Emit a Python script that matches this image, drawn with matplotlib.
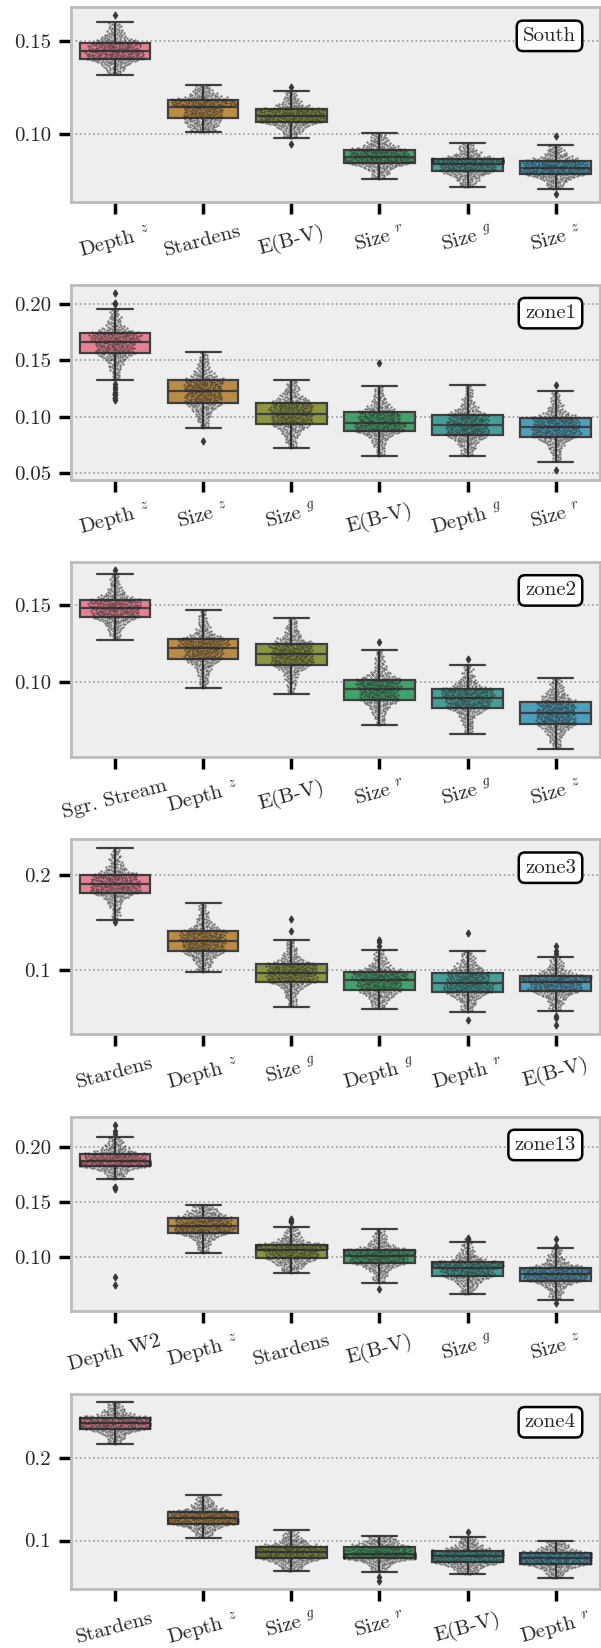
import numpy as np
import pandas as pd
import matplotlib
matplotlib.use("Agg")
import matplotlib.pyplot as plt
import seaborn as sns
import warnings

warnings.filterwarnings("ignore")

# panel names
zones = ["South", "zone1", "zone2", "zone3", "zone13", "zone4"]

# features per panel (sorted by median)
labels_south = [r"Depth $^z$", "Stardens", "E(B-V)", r"Size $^r$", r"Size $^g$", r"Size $^z$"]
labels_zone1 = [r"Depth $^z$", r"Size $^z$", r"Size $^g$", "E(B-V)", r"Depth $^g$", r"Size $^r$"]
labels_zone2 = ["Sgr. Stream", r"Depth $^z$", "E(B-V)", r"Size $^r$", r"Size $^g$", r"Size $^z$"]
labels_zone3 = ["Stardens", r"Depth $^z$", r"Size $^g$", r"Depth $^g$", r"Depth $^r$", "E(B-V)"]
labels_zone13 = ["Depth W2", r"Depth $^z$", "Stardens", "E(B-V)", r"Size $^g$", r"Size $^z$"]
labels_zone4 = ["Stardens", r"Depth $^z$", r"Size $^g$", r"Size $^r$", "E(B-V)", r"Depth $^r$"]

# box statistics: whisker low, q1, median, q3, whisker high
lo_south = [0.1320, 0.1010, 0.0980, 0.0760, 0.0715, 0.0705]
q1_south = [0.1405, 0.1085, 0.1064, 0.0844, 0.0801, 0.0785]
med_south = [0.1445, 0.1147, 0.1099, 0.0878, 0.0842, 0.0819]
q3_south = [0.1491, 0.1183, 0.1133, 0.0917, 0.0867, 0.0855]
hi_south = [0.1600, 0.1264, 0.1232, 0.1007, 0.0954, 0.0943]
out_south = [[0.1637], [], [0.1255, 0.0950], [], [], [0.0989, 0.0679]]

lo_zone1 = [0.1326, 0.0900, 0.0724, 0.0651, 0.0651, 0.0601]
q1_zone1 = [0.1563, 0.1120, 0.0935, 0.0871, 0.0836, 0.0824]
med_zone1 = [0.1663, 0.1226, 0.1029, 0.0947, 0.0924, 0.0906]
q3_zone1 = [0.1739, 0.1324, 0.1123, 0.1041, 0.1018, 0.0991]
hi_zone1 = [0.1959, 0.1576, 0.1323, 0.1270, 0.1282, 0.1232]
out_zone1 = [[0.2094, 0.2009, 0.1995, 0.1290, 0.1265, 0.1247, 0.1220, 0.1205, 0.1190, 0.1165, 0.1150],
             [0.0789], [], [0.1475], [], [0.1282, 0.0531]]

lo_zone2 = [0.1278, 0.0963, 0.0927, 0.0722, 0.0668, 0.0571]
q1_zone2 = [0.1422, 0.1151, 0.1116, 0.0884, 0.0836, 0.0728]
med_zone2 = [0.1481, 0.1226, 0.1183, 0.0957, 0.0901, 0.0800]
q3_zone2 = [0.1537, 0.1282, 0.1252, 0.1019, 0.0955, 0.0875]
hi_zone2 = [0.1705, 0.1472, 0.1418, 0.1209, 0.1116, 0.1030]
out_zone2 = [[0.1731], [], [], [0.1261], [0.1153], []]

lo_zone3 = [0.1528, 0.0976, 0.0612, 0.0591, 0.0552, 0.0563]
q1_zone3 = [0.1811, 0.1192, 0.0871, 0.0783, 0.0766, 0.0776]
med_zone3 = [0.1902, 0.1301, 0.0965, 0.0888, 0.0860, 0.0867]
q3_zone3 = [0.2000, 0.1406, 0.1056, 0.0972, 0.0969, 0.0930]
hi_zone3 = [0.2283, 0.1699, 0.1318, 0.1203, 0.1199, 0.1133]
out_zone3 = [[0.1507], [], [0.1539, 0.1409], [0.1308, 0.1290, 0.1255], [0.1388, 0.0468],
             [0.1248, 0.1200, 0.1170, 0.0514, 0.0490, 0.0416]]

lo_zone13 = [0.1706, 0.1036, 0.0859, 0.0769, 0.0664, 0.0616]
q1_zone13 = [0.1826, 0.1221, 0.0991, 0.0946, 0.0829, 0.0790]
med_zone13 = [0.1871, 0.1285, 0.1066, 0.1015, 0.0904, 0.0850]
q3_zone13 = [0.1934, 0.1356, 0.1114, 0.1069, 0.0955, 0.0907]
hi_zone13 = [0.2090, 0.1476, 0.1276, 0.1252, 0.1138, 0.1087]
out_zone13 = [[0.2195, 0.2138, 0.2114, 0.1634, 0.1619, 0.0823, 0.0748], [], [0.1345, 0.1330, 0.1318],
              [0.0715], [0.1177, 0.1165, 0.1160], [0.1165, 0.1100, 0.0586]]

lo_zone4 = [0.2173, 0.1036, 0.0629, 0.0617, 0.0589, 0.0540]
q1_zone4 = [0.2359, 0.1206, 0.0782, 0.0782, 0.0734, 0.0714]
med_zone4 = [0.2427, 0.1274, 0.0855, 0.0839, 0.0806, 0.0782]
q3_zone4 = [0.2492, 0.1351, 0.0927, 0.0919, 0.0871, 0.0847]
hi_zone4 = [0.2677, 0.1548, 0.1125, 0.1056, 0.1044, 0.1000]
out_zone4 = [[], [], [], [0.0560, 0.0504], [0.1101], []]

# y axis ticks per panel
yticks_south = [0.10, 0.15]
yticks_zone1 = [0.05, 0.10, 0.15, 0.20]
yticks_zone2 = [0.10, 0.15]
yticks_zone3 = [0.1, 0.2]
yticks_zone13 = [0.10, 0.15, 0.20]
yticks_zone4 = [0.1, 0.2]

panels = [
    (labels_south, lo_south, q1_south, med_south, q3_south, hi_south, out_south, yticks_south, (0.0635, 0.168), "%.2f"),
    (labels_zone1, lo_zone1, q1_zone1, med_zone1, q3_zone1, hi_zone1, out_zone1, yticks_zone1, (0.0444, 0.217), "%.2f"),
    (labels_zone2, lo_zone2, q1_zone2, med_zone2, q3_zone2, hi_zone2, out_zone2, yticks_zone2, (0.0517, 0.1782), "%.2f"),
    (labels_zone3, lo_zone3, q1_zone3, med_zone3, q3_zone3, hi_zone3, out_zone3, yticks_zone3, (0.0322, 0.2374), "%.1f"),
    (labels_zone13, lo_zone13, q1_zone13, med_zone13, q3_zone13, hi_zone13, out_zone13, yticks_zone13, (0.0511, 0.2273), "%.2f"),
    (labels_zone4, lo_zone4, q1_zone4, med_zone4, q3_zone4, hi_zone4, out_zone4, yticks_zone4, (0.0415, 0.2782), "%.1f"),
]

N_PTS = 300  # points per swarm


def swarm_values(lo, q1, med, q3, hi, out, n=N_PTS):
    # spread n points along the read five-number summary,
    # linear inside the box, thinning out towards the whisker ends
    p = (np.arange(n) + 0.5) / n
    v = np.interp(p, [0.25, 0.5, 0.75], [q1, med, q3])
    t = (0.25 - p[p < 0.25]) / 0.25
    a = min(1.0, (med - q1) / (q1 - lo))
    v[p < 0.25] = q1 - (q1 - lo) * (a * t + (1 - a) * t ** 3)
    t = (p[p > 0.75] - 0.75) / 0.25
    a = min(1.0, (q3 - med) / (hi - q3))
    v[p > 0.75] = q3 + (hi - q3) * (a * t + (1 - a) * t ** 3)
    return np.concatenate([v, out])


sns.set_style("ticks")
plt.rcParams["font.family"] = "serif"
plt.rcParams["font.serif"] = ["cmr10", "DejaVu Serif"]
plt.rcParams["mathtext.fontset"] = "cm"
plt.rcParams["axes.formatter.use_mathtext"] = True
plt.rcParams["axes.unicode_minus"] = False

pal = [sns.desaturate(c, 0.75) for c in sns.color_palette("husl", 8)[:6]]
line_c = "#3f3f3f"

fig, axes = plt.subplots(6, 1, figsize=(6.01, 16.48), dpi=100)
fig.subplots_adjust(left=0.118, right=0.998, top=0.9955, bottom=0.036, hspace=0.423)

for ax, zone, (labels, lo, q1, med, q3, hi, out, yt, ylim, fmt) in zip(axes, zones, panels):
    stats = []
    for i in range(6):
        stats.append(dict(whislo=lo[i], q1=q1[i], med=med[i], q3=q3[i], whishi=hi[i], fliers=out[i]))
    bp = ax.bxp(stats, positions=range(6), widths=0.8, patch_artist=True, manage_ticks=False,
                boxprops=dict(edgecolor=line_c, linewidth=1.6),
                medianprops=dict(color=line_c, linewidth=1.6),
                whiskerprops=dict(color=line_c, linewidth=1.6),
                capprops=dict(color=line_c, linewidth=1.6),
                flierprops=dict(marker="d", markerfacecolor=line_c, markeredgecolor=line_c, markersize=3.5))
    for patch, c in zip(bp["boxes"], pal):
        patch.set_facecolor(c)

    rows = []
    for i in range(6):
        for v in swarm_values(lo[i], q1[i], med[i], q3[i], hi[i], out[i]):
            rows.append((labels[i], v))
    df = pd.DataFrame(rows, columns=["feature", "value"])
    sns.swarmplot(data=df, x="feature", y="value", order=labels, color="0.15", size=1.7,
                  alpha=0.6, linewidth=0, ax=ax, zorder=3)

    ax.set_xlabel("")
    ax.set_ylabel("")
    ax.set_xlim(-0.5, 5.5)
    ax.set_ylim(*ylim)
    ax.set_xticks(range(6))
    ax.set_xticklabels(labels, rotation=15, fontsize=15)
    ax.set_yticks(yt)
    ax.set_yticklabels([fmt % t for t in yt], fontsize=15)
    ax.set_facecolor("#EEEEEE")
    for sp in ax.spines.values():
        sp.set_color("#BBBBBB")
        sp.set_linewidth(2)
        sp.set_visible(True)
    ax.yaxis.grid(True, linestyle=":", color="#999999", linewidth=1.2)
    ax.set_axisbelow(True)
    ax.tick_params(axis="both", which="major", length=8.5, width=2.5, color="black", pad=6)
    ax.text(0.955, 0.9, zone, transform=ax.transAxes, ha="right", va="top", fontsize=15,
            bbox=dict(boxstyle="round,pad=0.3", facecolor="white", edgecolor="black", linewidth=1.8),
            zorder=5)

fig.savefig("out.png", dpi=100)
